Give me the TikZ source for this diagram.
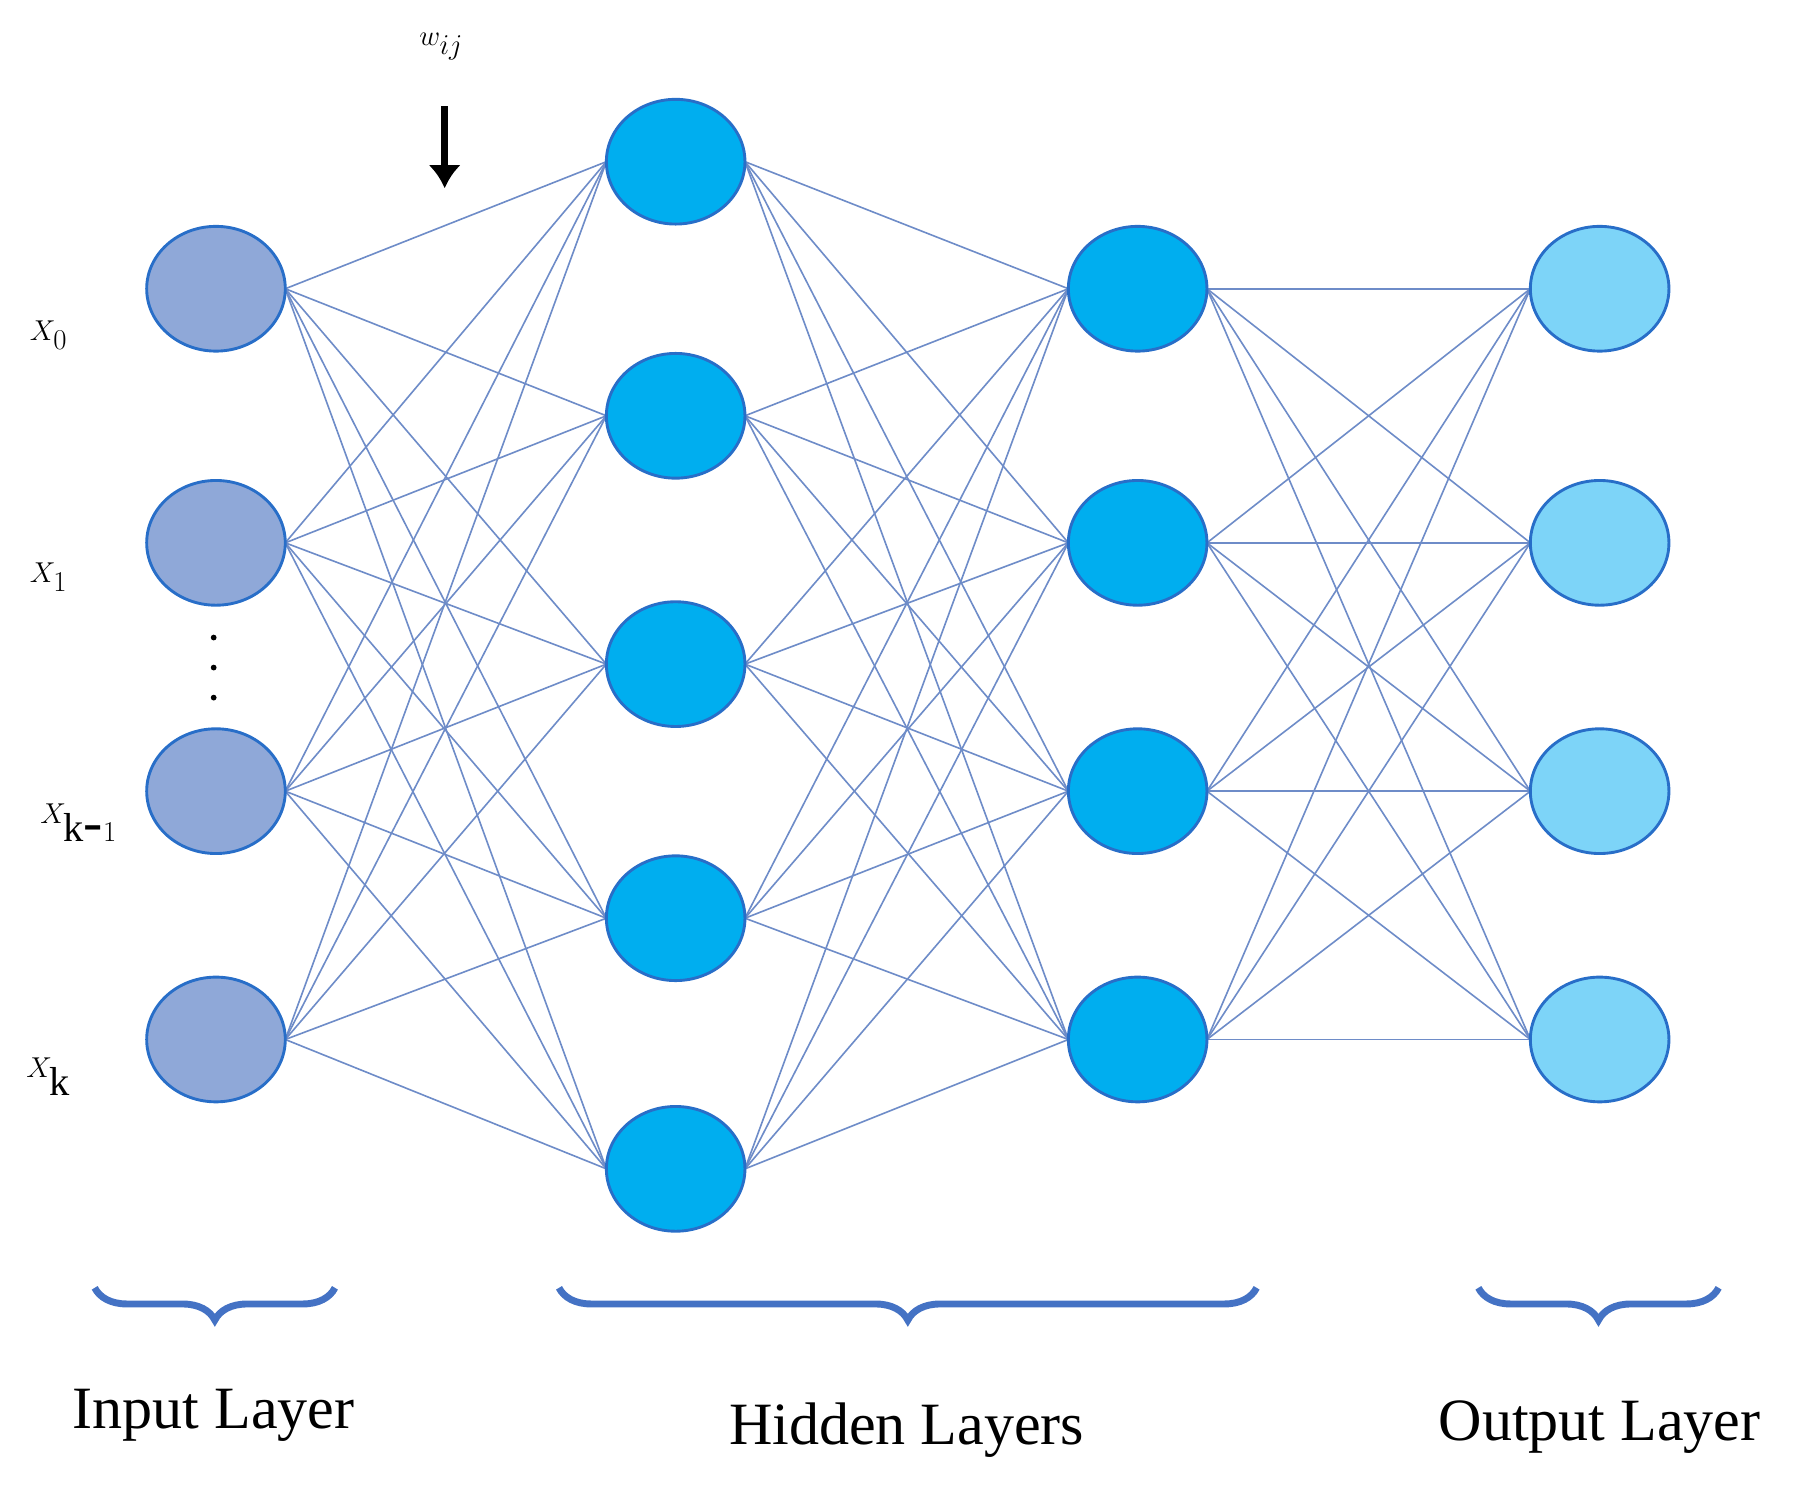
\documentclass[tikz,border=0pt]{standalone}
\usepackage{fontspec}
\setmainfont{Liberation Serif}
\usetikzlibrary{decorations.pathreplacing,shapes.geometric,arrows.meta}
\definecolor{inF}{RGB}{143,168,216}
\definecolor{hidF}{RGB}{0,174,239}
\definecolor{outF}{RGB}{125,212,248}
\definecolor{bord}{RGB}{40,110,200}
\definecolor{edge}{RGB}{110,140,200}
\definecolor{brc}{RGB}{68,114,196}
\begin{document}
\begin{tikzpicture}[x=1pt,y=-1pt,
  neu/.style={ellipse,draw=bord,line width=2.5pt,minimum width=120pt,minimum height=108pt,inner sep=0pt},
  ed/.style={draw=edge,line width=1.4pt},
  br/.style={draw=brc,line width=6pt,decorate,decoration={brace,mirror,amplitude=28pt,aspect=0.5}},
  lab/.style={font=\fontsize{52}{60}\selectfont},
  xl/.style={font=\fontsize{50}{60}\selectfont}]
\useasboundingbox (0,0) rectangle (1568,1290);
\foreach \i/\y in {1/250,2/470,3/685,4/900}{
  \coordinate (a\i) at (187,\y);
  \coordinate (c\i) at (985,\y);
  \coordinate (d\i) at (1385,\y);}
\foreach \i/\y in {1/140,2/360,3/575,4/795,5/1012}{
  \coordinate (b\i) at (585,\y);}
\foreach \i in {1,...,4}{\foreach \j in {1,...,5}{
  \draw[ed] ([xshift=60pt]a\i) -- ([xshift=-60pt]b\j);
  \draw[ed] ([xshift=60pt]b\j) -- ([xshift=-60pt]c\i);}}
\foreach \i in {1,...,4}{\foreach \j in {1,...,4}{
  \draw[ed] ([xshift=60pt]c\i) -- ([xshift=-60pt]d\j);}}
\foreach \i in {1,...,4}{
  \node[neu,fill=inF] (na\i) at (a\i) {};
  \node[neu,fill=hidF] (nc\i) at (c\i) {};
  \node[neu,fill=outF] (nd\i) at (d\i) {};}
\foreach \j in {1,...,5}{\node[neu,fill=hidF] (nb\j) at (b\j) {};}
\node[xl] (x0) at (42,290) {$X_0$};
\node[xl] (x1) at (42,500) {$X_1$};
\node[xl] (xk1) at (68,712) {$X_{\mathrm{k}\mbox{-}1}$};
\node[xl] (xk) at (42,932) {$X_{\mathrm{k}}$};
\foreach \y in {552,578,604}{\fill (185,\y) circle (2.5pt);}
\node[xl] (w) at (382,40) {$w_{ij}$};
\coordinate (wa) at (385,92);
\coordinate (wb) at (385,163);
\draw[line width=6pt,-{Latex[length=20pt,width=28pt]}] (wa) -- (wb);
\draw[br] (82,1115) -- (290,1115);
\draw[br] (484,1115) -- (1088,1115);
\draw[br] (1280,1115) -- (1488,1115);
\node[lab] (il) at (185,1225) {Input Layer};
\node[lab] (hl) at (785,1238) {Hidden Layers};
\node[lab] (ol) at (1385,1236) {Output Layer};
\end{tikzpicture}
\end{document}
